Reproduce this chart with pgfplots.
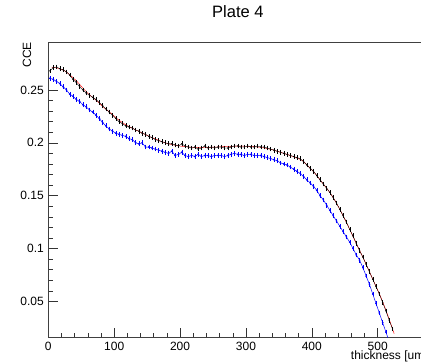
\documentclass[border=0pt]{standalone}
\usepackage{pgfplots}
\usepackage{pgfplotstable}
\pgfplotsset{compat=1.18}
\usepackage{fontspec}
\setmainfont{Liberation Sans}

\pgfplotstableread{
x y
2.5 0.268
7.5 0.271
12.5 0.2717
17.5 0.270
22.5 0.269
27.5 0.267
32.5 0.264
37.5 0.260
42.5 0.257
47.5 0.253
52.5 0.250
57.5 0.247
62.5 0.245
67.5 0.243
72.5 0.241
77.5 0.238
82.5 0.235
87.5 0.232
92.5 0.229
97.5 0.226
102.5 0.223
107.5 0.220
112.5 0.218
117.5 0.216
122.5 0.215
127.5 0.214
132.5 0.212
137.5 0.211
142.5 0.209
147.5 0.208
152.5 0.206
157.5 0.205
162.5 0.203
167.5 0.202
172.5 0.201
177.5 0.200
182.5 0.199
187.5 0.199
192.5 0.198
197.5 0.197
202.5 0.199
207.5 0.197
212.5 0.196
217.5 0.195
222.5 0.196
227.5 0.194
232.5 0.195
237.5 0.197
242.5 0.195
247.5 0.196
252.5 0.195
257.5 0.196
262.5 0.196
267.5 0.195
272.5 0.195
277.5 0.196
282.5 0.197
287.5 0.197
292.5 0.196
297.5 0.196
302.5 0.197
307.5 0.196
312.5 0.196
317.5 0.197
322.5 0.196
327.5 0.196
332.5 0.195
337.5 0.194
342.5 0.193
347.5 0.192
352.5 0.191
357.5 0.190
362.5 0.189
367.5 0.188
372.5 0.187
377.5 0.186
382.5 0.185
387.5 0.182
392.5 0.179
397.5 0.176
402.5 0.173
407.5 0.169
412.5 0.165
417.5 0.161
422.5 0.157
427.5 0.153
432.5 0.148
437.5 0.143
442.5 0.137
447.5 0.131
452.5 0.125
457.5 0.118
462.5 0.112
467.5 0.105
472.5 0.098
477.5 0.092
482.5 0.085
487.5 0.078
492.5 0.071
497.5 0.064
502.5 0.057
507.5 0.049
512.5 0.041
517.5 0.032
522.5 0.024
}\blacktab

\pgfplotstableread{
x y
2.5 0.261
7.5 0.260
12.5 0.258
17.5 0.256
22.5 0.253
27.5 0.250
32.5 0.246
37.5 0.244
42.5 0.241
47.5 0.239
52.5 0.236
57.5 0.234
62.5 0.231
67.5 0.229
72.5 0.226
77.5 0.223
82.5 0.219
87.5 0.216
92.5 0.213
97.5 0.211
102.5 0.209
107.5 0.208
112.5 0.207
117.5 0.206
122.5 0.204
127.5 0.203
132.5 0.200
137.5 0.199
142.5 0.200
147.5 0.196
152.5 0.196
157.5 0.195
162.5 0.194
167.5 0.193
172.5 0.192
177.5 0.191
182.5 0.190
187.5 0.192
192.5 0.188
197.5 0.189
202.5 0.191
207.5 0.188
212.5 0.187
217.5 0.188
222.5 0.187
227.5 0.189
232.5 0.187
237.5 0.188
242.5 0.188
247.5 0.187
252.5 0.188
257.5 0.188
262.5 0.188
267.5 0.187
272.5 0.188
277.5 0.189
282.5 0.190
287.5 0.189
292.5 0.189
297.5 0.188
302.5 0.189
307.5 0.189
312.5 0.188
317.5 0.188
322.5 0.188
327.5 0.187
332.5 0.186
337.5 0.185
342.5 0.184
347.5 0.183
352.5 0.181
357.5 0.180
362.5 0.179
367.5 0.177
372.5 0.175
377.5 0.173
382.5 0.171
387.5 0.168
392.5 0.165
397.5 0.162
402.5 0.159
407.5 0.155
412.5 0.150
417.5 0.146
422.5 0.141
427.5 0.136
432.5 0.131
437.5 0.126
442.5 0.121
447.5 0.116
452.5 0.111
457.5 0.106
462.5 0.100
467.5 0.094
472.5 0.089
477.5 0.082
482.5 0.074
487.5 0.066
492.5 0.057
497.5 0.048
502.5 0.039
507.5 0.030
512.5 0.021
517.5 0.012
}\bluetab

\pgfplotstableread{
x y
5 0.2715
15 0.2705
25 0.268
35 0.263
45 0.257
55 0.250
65 0.244
75 0.239
85 0.233
95 0.228
105 0.2225
115 0.218
125 0.2145
135 0.2115
145 0.2085
155 0.2055
165 0.203
175 0.2005
185 0.1987
195 0.1975
205 0.1965
215 0.196
225 0.1955
235 0.1955
245 0.1957
255 0.196
265 0.1963
275 0.1966
285 0.1968
295 0.1968
305 0.1966
315 0.1962
325 0.1955
335 0.1942
345 0.1925
355 0.1905
365 0.1885
375 0.1862
385 0.1835
395 0.1775
405 0.171
415 0.163
425 0.155
435 0.1455
445 0.134
455 0.1215
465 0.108
475 0.095
485 0.0815
495 0.0675
505 0.0535
515 0.0375
525 0.0195
}\fittab

\begin{document}
\begin{tikzpicture}
\begin{axis}[
  at={(0,0)}, anchor=south west,
  scale only axis,
  width=374bp, height=295.7bp,
  xmin=0, xmax=567.7,
  ymin=0.0157, ymax=0.2953,
  xtick={0,100,200,300,400,500},
  ytick={0.05,0.1,0.15,0.2,0.25},
  minor x tick num=4,
  minor y tick num=4,
  tick align=inside,
  xtick pos=bottom, ytick pos=left,
  major tick length=10bp,
  minor tick length=5bp,
  tick style={line width=0.5pt, black!80},
  axis line style={line width=0.6pt, black!75},
  /pgf/number format/assume math mode=true,
  ticklabel style={font=\fontsize{12bp}{14bp}\selectfont},
  xticklabel style={yshift=-1bp},
  yticklabel style={xshift=-1bp},
  scaled y ticks=false,
  yticklabel style={/pgf/number format/fixed},
  title={Plate 4},
  title style={at={(axis description cs:0.507,1)}, anchor=base, yshift=18.7bp, inner sep=0pt, font=\fontsize{16.5bp}{18bp}\selectfont},
  xlabel={thickness [um]},
  xlabel style={at={(axis description cs:0.8086,0)}, anchor=base west, yshift=-21.5bp, inner sep=0pt, font=\fontsize{12bp}{14bp}\selectfont},
  ylabel={CCE},
  ylabel style={at={(axis description cs:-0.057,1)}, rotate=0, anchor=east, inner sep=0pt, font=\fontsize{12bp}{14bp}\selectfont},
]
\addplot[blue, line width=0.5pt, mark=*, mark size=0.6pt,
  error bars/.cd, y dir=both, y fixed=0.0012,
  error bar style={blue, line width=0.35pt},
  error mark options={blue, mark size=1.1pt, line width=0.35pt}] table[x=x,y=y] {\bluetab};
\addplot[red, line width=0.45pt, smooth, no marks] table[x=x,y=y] {\fittab};
\addplot[black, line width=0.35pt, mark=*, mark size=0.45pt,
  error bars/.cd, y dir=both, y fixed=0.0012,
  error bar style={black, line width=0.35pt},
  error mark options={black, mark size=1.1pt, line width=0.35pt}] table[x=x,y=y] {\blacktab};
\end{axis}
\pgfresetboundingbox
\useasboundingbox (-48.3bp,-24.3bp) rectangle (372.7bp,337.7bp);
\end{tikzpicture}
\end{document}
